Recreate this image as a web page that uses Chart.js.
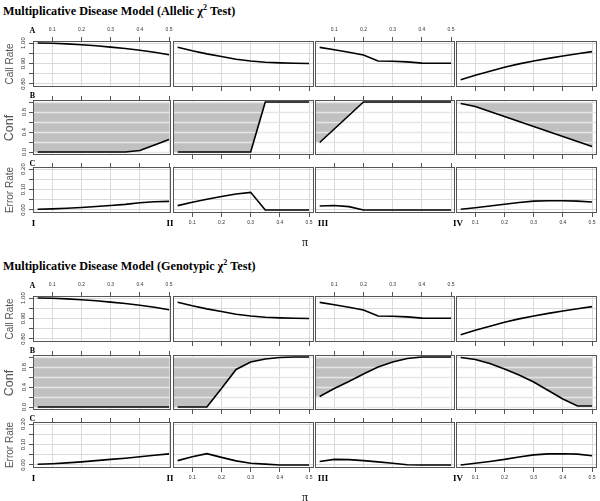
<!DOCTYPE html>
<html>
<head>
<meta charset="utf-8">
<script src="https://cdn.jsdelivr.net/npm/chart.js@4.4.0/dist/chart.umd.min.js"></script>
<style>
body { margin: 0; background: #fff; }
#fig { position: relative; width: 600px; height: 501px; overflow: hidden; font-family: 'Liberation Serif', serif; }
#fig canvas { position: absolute; }
.t { position: absolute; white-space: nowrap; transform: translate(-50%, -50%); }
.title { position: absolute; white-space: nowrap; font-weight: bold; font-size: 12.2px; line-height: 12px; }
.title sup { font-size: 8px; line-height: 0; }
.tag { font-weight: bold; font-size: 8px; line-height: 8px; }
.num { font-weight: bold; font-size: 9px; line-height: 9px; }
.ylab { font-family: 'Liberation Sans', sans-serif; color: #555; transform: translate(-50%, -50%) rotate(-90deg); }
</style>
</head>
<body>
<div id="fig"></div>
<script>
// allele frequency pi
const PI = [0.05, 0.1, 0.15, 0.2, 0.25, 0.3, 0.35, 0.4, 0.45, 0.5];
const xTicks = [0.1, 0.2, 0.3, 0.4, 0.5];
const panelNames = ['I', 'II', 'III', 'IV'];

// call rate, same for both tests (panels I..IV)
const callRate = [
    [1.000, 0.999, 0.996, 0.992, 0.987, 0.980, 0.973, 0.965, 0.955, 0.943],
    [0.979, 0.962, 0.947, 0.934, 0.921, 0.912, 0.906, 0.903, 0.901, 0.900],
    [0.979, 0.967, 0.955, 0.942, 0.912, 0.911, 0.908, 0.902, 0.901, 0.901],
    [0.820, 0.842, 0.862, 0.882, 0.898, 0.912, 0.925, 0.937, 0.948, 0.958]
];

// allelic test
const allelicConf = [
    [0, 0, 0, 0, 0, 0, 0, 0.03, 0.14, 0.25],
    [0, 0, 0, 0, 0, 0, 1, 1, 1, 1],
    [0.19, 0.46, 0.73, 1, 1, 1, 1, 1, 1, 1],
    [0.97, 0.91, 0.81, 0.71, 0.61, 0.51, 0.41, 0.31, 0.21, 0.11]
];
const allelicError = [
    [0.003, 0.005, 0.008, 0.012, 0.017, 0.022, 0.027, 0.035, 0.040, 0.042],
    [0.021, 0.038, 0.052, 0.066, 0.078, 0.086, 0, 0, 0, 0],
    [0.019, 0.022, 0.016, 0, 0, 0, 0, 0, 0, 0],
    [0.003, 0.011, 0.019, 0.028, 0.036, 0.043, 0.045, 0.045, 0.043, 0.039]
];

// genotypic test
const genoConf = [
    [0, 0, 0, 0, 0, 0, 0, 0, 0, 0],
    [0, 0, 0, 0.37, 0.75, 0.9, 0.96, 0.99, 1, 1],
    [0.21, 0.37, 0.51, 0.66, 0.8, 0.9, 0.97, 1, 1, 1],
    [0.99, 0.95, 0.87, 0.76, 0.64, 0.5, 0.33, 0.16, 0.02, 0.02]
];
const genoError = [
    [0.003, 0.006, 0.010, 0.015, 0.021, 0.027, 0.033, 0.040, 0.047, 0.054],
    [0.021, 0.040, 0.055, 0.037, 0.020, 0.008, 0.004, 0, 0, 0],
    [0.017, 0.027, 0.026, 0.021, 0.015, 0.008, 0.001, 0, 0, 0],
    [0.000, 0.008, 0.017, 0.027, 0.039, 0.049, 0.054, 0.055, 0.053, 0.045]
];

// y ticks per row
const callTicks = [0.80, 0.85, 0.90, 0.95, 1.00];
const callTickLabels = ['0.80', '', '0.90', '', '1.00'];
const confTicks = [0, 0.2, 0.4, 0.6, 0.8, 1.0];
const confTickLabels = ['0.0', '', '0.4', '', '0.8', ''];
const errTicks = [0, 0.05, 0.10, 0.15, 0.20];
const errTickLabels = ['0.00', '', '0.10', '', '0.20'];

// layout
const cols = [{left: 33, w: 138}, {left: 173, w: 141}, {left: 315, w: 140}, {left: 456, w: 141}];
const rows = [
    {top: 41, h: 46, min: 0.785, max: 1.01, ticks: callTicks, labels: callTickLabels, tag: 'A', tagY: 30.5, name: 'Call Rate', size: 10},
    {top: 100, h: 55, min: -0.06, max: 1.04, ticks: confTicks, labels: confTickLabels, tag: 'B', tagY: 95.5, name: 'Conf', size: 12.5},
    {top: 167, h: 46, min: -0.015, max: 0.21, ticks: errTicks, labels: errTickLabels, tag: 'C', tagY: 163.5, name: 'Error Rate', size: 10}
];
const X_MIN = 0.034;
const PX_PER_UNIT = 292;

const figures = [
    {offset: 0, test: 'Allelic', series: [callRate, allelicConf, allelicError]},
    {offset: 255, test: 'Genotypic', series: [callRate, genoConf, genoError]}
];

Chart.defaults.font.family = "'Liberation Sans', Arial, sans-serif";

const fig = document.getElementById('fig');

const panelBox = {
    id: 'panelBox',
    afterDatasetDraw(chart, args) {
        if (!chart.data.datasets[args.index].shade) return;
        const {ctx, chartArea: a, scales: {y}} = chart;
        ctx.save();
        ctx.strokeStyle = '#e6e6e6';
        ctx.lineWidth = 1.5;
        y.ticks.forEach(t => {
            const py = Math.round(y.getPixelForValue(t.value)) + 0.5;
            ctx.beginPath();
            ctx.moveTo(a.left, py);
            ctx.lineTo(a.right, py);
            ctx.stroke();
        });
        ctx.restore();
    },
    afterDraw(chart) {
        const {ctx, chartArea: a} = chart;
        ctx.save();
        ctx.strokeStyle = '#555';
        ctx.lineWidth = 1;
        ctx.strokeRect(a.left + 0.5, a.top + 0.5, a.right - a.left - 1, a.bottom - a.top - 1);
        ctx.restore();
    }
};

function addText(cls, html, x, y, style) {
    const d = document.createElement('div');
    d.className = cls;
    d.innerHTML = html;
    d.style.left = x + 'px';
    d.style.top = y + 'px';
    if (style) Object.assign(d.style, style);
    fig.appendChild(d);
}

function makeCell(top0, r, c, values) {
    const col = cols[c], row = rows[r];
    const ml = c === 0 ? 33 : 2, mr = 4, mt = 14, mb = 14;
    const xTop = c % 2 === 0;
    const cv = document.createElement('canvas');
    cv.width = col.w + ml + mr;
    cv.height = row.h + mt + mb;
    cv.style.left = (col.left - ml) + 'px';
    cv.style.top = (top0 + row.top - mt) + 'px';
    fig.appendChild(cv);

    const pts = PI.map((x, i) => ({x: x, y: values[i]}));
    const datasets = [{
        data: pts, borderColor: '#000', borderWidth: 1.6, pointRadius: 0,
        fill: false, tension: 0, order: 1
    }];
    if (r === 1) {
        datasets.push({
            shade: true, data: [{x: X_MIN, y: values[0]}].concat(pts),
            borderWidth: 0, borderColor: 'rgba(0,0,0,0)', pointRadius: 0,
            backgroundColor: '#c0c0c0', fill: {value: 1}, order: 2
        });
    }

    new Chart(cv, {
        type: 'line',
        data: {datasets: datasets},
        options: {
            responsive: false,
            animation: false,
            events: [],
            layout: {padding: {left: 0, right: mr, top: xTop ? 0 : mt, bottom: xTop ? mb : 0}},
            plugins: {legend: {display: false}, tooltip: {enabled: false}},
            scales: {
                x: {
                    type: 'linear',
                    position: xTop ? 'top' : 'bottom',
                    min: X_MIN,
                    max: X_MIN + col.w / PX_PER_UNIT,
                    afterBuildTicks: s => { s.ticks = xTicks.map(v => ({value: v})); },
                    afterFit: s => {
                        s.height = xTop ? mt : mb;
                        s.paddingLeft = 0; s.paddingRight = 0;
                    },
                    grid: {color: '#dadada', tickColor: '#555', tickLength: 4},
                    border: {display: false},
                    ticks: {
                        display: (r === 0 && xTop) || (r === 2 && !xTop),
                        padding: xTop ? 4 : 3,
                        font: {size: 5},
                        color: '#333',
                        maxRotation: 0,
                        autoSkip: false,
                        callback: v => String(v)
                    }
                },
                y: {
                    type: 'linear',
                    position: 'left',
                    min: row.min,
                    max: row.max,
                    afterBuildTicks: s => { s.ticks = row.ticks.map(v => ({value: v})); },
                    afterFit: s => {
                        s.width = ml;
                        s.paddingTop = 0; s.paddingBottom = 0;
                    },
                    grid: {color: '#dadada', tickColor: '#555', tickLength: 4, drawTicks: c === 0},
                    border: {display: false},
                    ticks: {
                        display: c === 0,
                        padding: 0,
                        font: {size: 6},
                        color: '#333',
                        minRotation: 90,
                        maxRotation: 90,
                        crossAlign: 'center',
                        autoSkip: false,
                        callback: (v, i) => row.labels[i]
                    }
                }
            }
        },
        plugins: [panelBox]
    });
}

figures.forEach(f => {
    const o = f.offset;
    addText('title', 'Multiplicative Disease Model (' + f.test + ' &chi;<sup>2</sup> Test)', 3, o + 5);
    rows.forEach((row, r) => {
        f.series[r].forEach((vals, c) => makeCell(o, r, c, vals));
        addText('t tag', row.tag, 32.5, o + row.tagY);
        addText('t ylab', row.name, 9, o + row.top + row.h / 2, {fontSize: row.size + 'px'});
    });
    const yl = o + 223;
    addText('t num', panelNames[0], 33.5, yl);
    addText('t num', panelNames[1], 170, yl);
    addText('t num', panelNames[2], 323, yl);
    addText('t num', panelNames[3], 458, yl);
    addText('t', '&pi;', 305, o + 242, {fontSize: '12px'});
});
</script>
</body>
</html>
